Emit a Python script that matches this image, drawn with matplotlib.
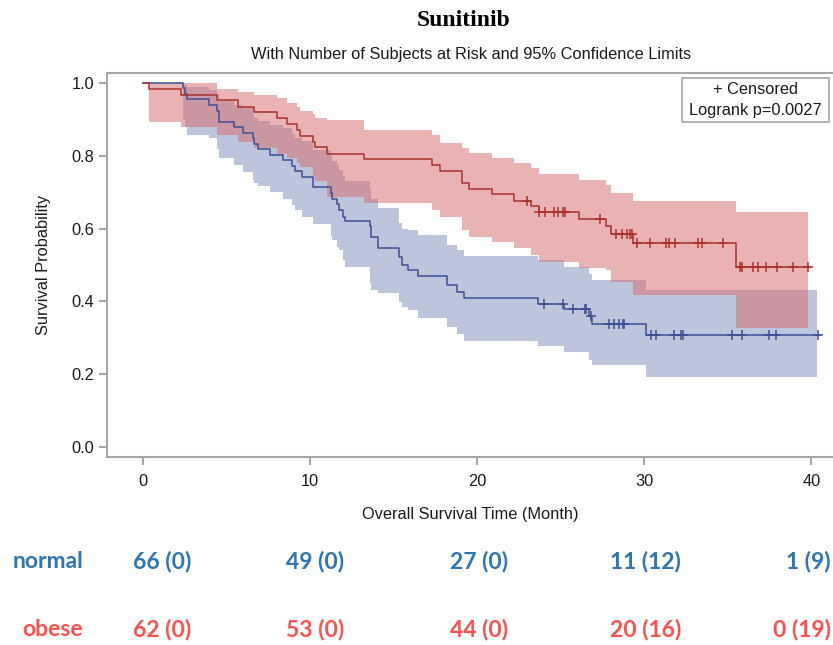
import matplotlib
matplotlib.use("Agg")
import matplotlib.pyplot as plt
from matplotlib.patches import Rectangle
import numpy as np

# ---- Kaplan-Meier estimates (time in months, survival probability) ----
normal_time = [0, 2.4, 2.5, 2.65, 3.97, 4.45, 4.57, 5.47, 6.0, 6.56, 6.64, 6.9, 7.6,
               8.36, 8.9, 9.1, 9.5, 10.19, 11.23, 11.3, 11.6, 11.75, 11.95, 12.1,
               13.6, 13.65, 14.08, 15.34, 15.48, 15.88, 16.48, 18.21, 18.77, 19.21,
               23.66, 25.2, 26.7, 26.85, 30.1, 40.5]
normal_surv = [1.0, 0.985, 0.970, 0.955, 0.939, 0.924, 0.894, 0.879, 0.864, 0.848,
               0.833, 0.818, 0.803, 0.788, 0.773, 0.758, 0.742, 0.715, 0.697, 0.681,
               0.667, 0.652, 0.633, 0.621, 0.606, 0.576, 0.546, 0.521, 0.500, 0.485,
               0.470, 0.445, 0.427, 0.409, 0.394, 0.378, 0.360, 0.338, 0.308, 0.308]

obese_time = [0, 0.33, 2.27, 4.41, 5.71, 6.64, 8.0, 8.6, 9.2, 9.4, 10.2, 10.3, 11.0,
              13.2, 17.3, 17.8, 19.1, 19.5, 20.9, 22.2, 23.2, 23.7, 26.1, 27.7, 28.0,
              29.3, 35.5, 39.95]
obese_surv = [1.0, 0.984, 0.968, 0.952, 0.935, 0.919, 0.903, 0.887, 0.871, 0.855,
              0.839, 0.823, 0.806, 0.790, 0.774, 0.758, 0.726, 0.710, 0.694, 0.677,
              0.661, 0.645, 0.626, 0.607, 0.585, 0.561, 0.495, 0.495]

# ---- censoring times ----
normal_cens = [24.0, 25.12, 25.75, 26.45, 26.51, 26.79, 27.89, 28.2, 28.5, 28.74,
               28.8, 30.38, 30.7, 31.78, 32.18, 32.33, 35.23, 35.87, 37.48, 37.88,
               40.41]
obese_cens = [22.99, 23.7, 24.05, 24.6, 24.85, 25.15, 25.27, 27.35, 28.3, 28.65,
              28.95, 29.15, 29.25, 29.54, 30.34, 31.3, 31.5, 31.84, 33.23, 33.43,
              34.73, 35.72, 35.84, 36.53, 36.82, 37.28, 37.92, 38.92, 39.78]

# ---- 95% confidence limits ----
normal_ci_time = [2.4, 2.5, 2.65, 3.97, 4.45, 4.57, 5.47, 6.0, 6.56, 6.64, 6.9, 7.6,
                  8.36, 8.9, 9.1, 9.5, 10.19, 11.23, 11.3, 11.6, 11.75, 11.95, 12.1,
                  13.6, 13.65, 14.08, 15.34, 15.48, 15.88, 16.48, 18.21, 18.77, 19.21,
                  23.66, 25.2, 26.7, 26.85, 30.1, 40.37]
normal_ci_low = [0.90, 0.88, 0.857, 0.848, 0.82, 0.793, 0.775, 0.755, 0.733, 0.725,
                 0.717, 0.700, 0.682, 0.664, 0.650, 0.632, 0.614, 0.580, 0.570, 0.550,
                 0.540, 0.515, 0.495, 0.450, 0.430, 0.422, 0.399, 0.385, 0.376, 0.354,
                 0.330, 0.310, 0.290, 0.277, 0.262, 0.239, 0.225, 0.193, 0.193]
normal_ci_high = [0.998, 0.995, 0.99, 0.98, 0.97, 0.95, 0.94, 0.93, 0.915, 0.905,
                  0.895, 0.885, 0.875, 0.86, 0.85, 0.84, 0.815, 0.80, 0.785, 0.775,
                  0.76, 0.745, 0.73, 0.71, 0.68, 0.656, 0.615, 0.60, 0.596, 0.582,
                  0.555, 0.541, 0.525, 0.514, 0.494, 0.475, 0.458, 0.431, 0.431]

obese_ci_time = [0.33, 2.27, 4.41, 5.71, 6.64, 8.0, 8.6, 9.2, 9.4, 10.2, 10.3, 11.0,
                 13.2, 17.3, 17.8, 19.1, 19.5, 20.9, 22.2, 23.2, 23.7, 26.1, 27.7,
                 28.0, 29.3, 35.5, 39.78]
obese_ci_low = [0.892, 0.878, 0.857, 0.839, 0.821, 0.805, 0.793, 0.780, 0.770, 0.745,
                0.730, 0.688, 0.670, 0.651, 0.633, 0.596, 0.578, 0.564, 0.546, 0.527,
                0.508, 0.491, 0.485, 0.454, 0.418, 0.326, 0.326]
obese_ci_high = [1.0, 1.0, 0.983, 0.976, 0.967, 0.958, 0.946, 0.935, 0.924, 0.915,
                 0.905, 0.898, 0.871, 0.857, 0.834, 0.821, 0.807, 0.793, 0.779, 0.766,
                 0.750, 0.734, 0.720, 0.699, 0.677, 0.645, 0.645]

# ---- number at risk (censored) table ----
risk_groups = ["normal", "obese"]
risk_normal = ["66 (0)", "49 (0)", "27 (0)", "11 (12)", "1 (9)"]
risk_obese = ["62 (0)", "53 (0)", "44 (0)", "20 (16)", "0 (19)"]

x_ticks = [0, 10, 20, 30, 40]
y_ticks = [0.0, 0.2, 0.4, 0.6, 0.8, 1.0]

title = "Sunitinib"
subtitle = "With Number of Subjects at Risk and 95% Confidence Limits"
legend_lines = ["+ Censored", "Logrank p=0.0027"]

# ---- styling ----
BLUE_LINE = "#3b4f96"
RED_LINE = "#a8322a"
BLUE_BAND = "#7d8dbd"
RED_BAND = "#d56969"
GRID_GRAY = "#a6a6a6"
TEXT = "#1a1a1a"
TABLE_BLUE = "#2e75b6"
TABLE_RED = "#ff4f4f"

W, H = 833, 645
fig = plt.figure(figsize=(W / 100, H / 100), dpi=100)
ax_left, ax_right, ax_top, ax_bottom = 107, 833, 73, 457
ax = fig.add_axes([ax_left / W, 1 - ax_bottom / H,
                   (ax_right - ax_left) / W, (ax_bottom - ax_top) / H])

px_per_month = (811.3 - 143) / 40.0
ax.set_xlim(-(143 - ax_left) / px_per_month, (ax_right - 143) / px_per_month)
px_per_unit = 447 - 83
ax.set_ylim(-(ax_bottom - 447) / px_per_unit, 1 + (83 - ax_top) / px_per_unit)

sans = ["Liberation Sans", "DejaVu Sans"]

# confidence bands
ax.fill_between(normal_ci_time, normal_ci_low, normal_ci_high, step="post",
                color=BLUE_BAND, alpha=0.5, linewidth=0, zorder=1)
ax.fill_between(obese_ci_time, obese_ci_low, obese_ci_high, step="post",
                color=RED_BAND, alpha=0.5, linewidth=0, zorder=2)

# survival curves
ax.step(normal_time, normal_surv, where="post", color=BLUE_LINE, lw=1.1, zorder=4)
ax.step(obese_time, obese_surv, where="post", color=RED_LINE, lw=1.1, zorder=4)


def surv_at(times, values, t):
    idx = np.searchsorted(times, t, side="right") - 1
    return values[idx]


ax.plot(normal_cens, [surv_at(normal_time, normal_surv, t) for t in normal_cens],
        ls="none", marker="+", ms=7, mew=1.1, color=BLUE_LINE, zorder=5)
ax.plot(obese_cens, [surv_at(obese_time, obese_surv, t) for t in obese_cens],
        ls="none", marker="+", ms=7, mew=1.1, color=RED_LINE, zorder=5)

# axes frame
for side in ["left", "bottom", "top"]:
    ax.spines[side].set_color(GRID_GRAY)
    ax.spines[side].set_linewidth(1.5)
ax.spines["right"].set_visible(False)

ax.set_xticks(x_ticks)
ax.set_yticks(y_ticks)
ax.set_yticklabels([f"{v:.1f}" for v in y_ticks])
ax.tick_params(axis="both", colors=GRID_GRAY, width=1.5, length=5.5,
               labelcolor=TEXT, labelsize=11.8)
ax.tick_params(axis="y", pad=3.5)
ax.tick_params(axis="x", pad=7)
for lbl in ax.get_xticklabels() + ax.get_yticklabels():
    lbl.set_family(sans)

ax.set_xlabel("Overall Survival Time (Month)", fontsize=11.8, family=sans,
              color=TEXT, labelpad=13)
ax.set_ylabel("Survival Probability", fontsize=11.8, family=sans,
              color=TEXT, labelpad=15)

# legend box with logrank p-value (pixel layout converted to figure fractions)
box_l, box_r, box_t, box_b = 682, 829, 78, 122
fig.patches.append(Rectangle((box_l / W, 1 - box_b / H), (box_r - box_l) / W,
                             (box_b - box_t) / H, transform=fig.transFigure,
                             fc="white", ec=GRID_GRAY, lw=1.2, zorder=6))
for line, yc in zip(legend_lines, [90, 110.5]):
    fig.text((box_l + box_r) / 2 / W, 1 - yc / H, line, ha="center", va="center",
             fontsize=11.8, family=sans, color=TEXT, zorder=7)

# titles
fig.text(464 / W, 1 - 20 / H, title, ha="center", va="center",
         fontsize=17, fontweight="bold", family=["Liberation Serif", "DejaVu Serif"],
         color="black")
fig.text(471 / W, 1 - 55 / H, subtitle, ha="center", va="center",
         fontsize=11.8, family=sans, color=TEXT)

# number-at-risk table
table_font = ["Lato", "DejaVu Sans"]
col_right = [191, 344, 508, 681, 831]
row_y = [561, 630]
row_colors = [TABLE_BLUE, TABLE_RED]
for grp, vals, y, col in zip(risk_groups, [risk_normal, risk_obese], row_y, row_colors):
    fig.text(83 / W, 1 - y / H, grp, ha="right", va="center", fontsize=16.5,
             fontweight="bold", family=table_font, color=col)
    for xr, v in zip(col_right, vals):
        fig.text(xr / W, 1 - y / H, v, ha="right", va="center", fontsize=16.5,
                 fontweight="bold", family=table_font, color=col)

fig.savefig("out.png", dpi=100)
